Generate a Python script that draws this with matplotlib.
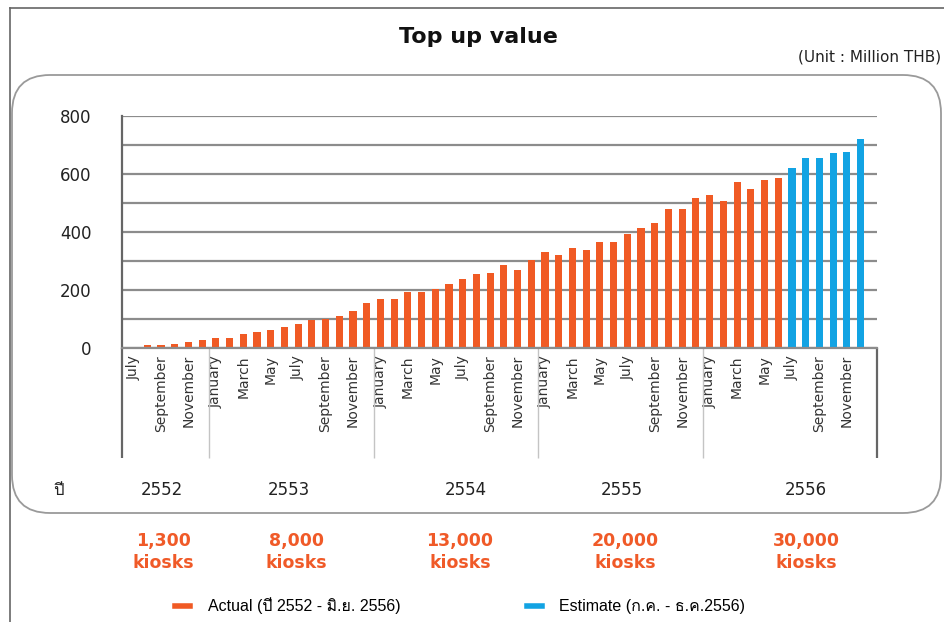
import numpy as np
import matplotlib
matplotlib.use('Agg')
import matplotlib.pyplot as plt
from matplotlib import font_manager
from matplotlib.ft2font import FT2Font
from matplotlib.patches import FancyBboxPatch
from matplotlib.lines import Line2D
from matplotlib.transforms import IdentityTransform


# busca una fuente con glifos thai (ปี, มิ.ย., ...)
def buscar_fuente_thai():
    vistos = set()
    for f in font_manager.fontManager.ttflist:
        if f.fname in vistos:
            continue
        vistos.add(f.fname)
        try:
            if 0x0E1B in FT2Font(f.fname).get_charmap():
                return f.name
        except Exception:
            pass
    return None


thai = buscar_fuente_thai()
familia = ['DejaVu Sans'] + ([thai] if thai else [])
familia_leyenda = ['Liberation Sans'] + ([thai] if thai else [])
plt.rcParams['font.family'] = familia

# %% datos

years = ['2552', '2553', '2554', '2555', '2556']
kiosks = ['1,300', '8,000', '13,000', '20,000', '30,000']
month_names = ['January', 'February', 'March', 'April', 'May', 'June',
               'July', 'August', 'September', 'October', 'November', 'December']

# jul 2552 - jun 2556
actual_values = [0, 11, 11, 15, 22, 29,
                 36, 36, 48, 56, 63, 75, 84, 98, 100, 112, 128, 155,
                 169, 169, 193, 193, 205, 221, 240, 255, 258, 286, 268, 304,
                 333, 320, 344, 340, 366, 366, 393, 413, 433, 479, 481, 517,
                 529, 508, 571, 550, 580, 586]
# jul 2556 - dic 2556
estimate_values = [622, 654, 654, 671, 676, 721]

actual_label = 'Actual (ปี 2552 - มิ.ย. 2556)'
estimate_label = 'Estimate (ก.ค. - ธ.ค.2556)'

months = month_names[6:] + month_names * 3 + month_names
n = len(months)
x = np.arange(n)
x_act = x[:len(actual_values)]
x_est = x[len(actual_values):]

c_act = '#F05A24'
c_est = '#12A3E3'

# %% figura

W, H = 945, 622
fig = plt.figure(figsize=(W / 100, H / 100), dpi=100)


def fx(px):
    return px / W


def fy(py):
    return 1 - py / H


# marco de la diapositiva
fig.add_artist(Line2D([fx(10), 1], [fy(8), fy(8)], color='#666666', lw=1.2))
fig.add_artist(Line2D([fx(10), fx(10)], [fy(8), 0], color='#666666', lw=1.2))

# caja redondeada
caja = FancyBboxPatch((12, H - 513), 929, 438,
                      boxstyle='round,pad=0,rounding_size=38',
                      transform=IdentityTransform(),
                      fc='none', ec='#9a9a9a', lw=1.3)
fig.add_artist(caja)

fig.text(fx(478), fy(37), 'Top up value', ha='center', va='center',
         fontsize=16, fontweight='bold', color='#111111')
fig.text(fx(941), fy(57), '(Unit : Million THB)', ha='right', va='center',
         fontsize=11, color='#222222')

ax_top, ax_bot = 116, 348.3
ax = fig.add_axes([fx(122), fy(ax_bot), fx(877) - fx(122), (ax_bot - ax_top) / H])
xmin, xmax = -0.84, 54.2
ax.set_xlim(xmin, xmax)
ax.set_ylim(0, 800)

ax.bar(x_act, actual_values, width=0.52, color=c_act, zorder=2)
ax.bar(x_est, estimate_values, width=0.52, color=c_est, zorder=2)

yt = np.arange(0, 801, 100)
ax.set_yticks(yt)
ax.set_yticklabels([str(v) if v % 200 == 0 else '' for v in yt])
ax.yaxis.grid(True, color='#8c8c8c', lw=1.6)
ax.set_axisbelow(True)
ax.tick_params(axis='y', length=0, pad=22, labelsize=12, labelcolor='#222222')

ax.set_xticks(x[::2])
ax.set_xticklabels(months[::2], rotation=90, fontsize=10, color='#333333')
ax.tick_params(axis='x', length=0, pad=5)

for s in ['top', 'right']:
    ax.spines[s].set_visible(False)
ax.spines['left'].set_color('#666666')
ax.spines['left'].set_linewidth(1.6)
ax.spines['bottom'].set_color('#8c8c8c')
ax.spines['bottom'].set_linewidth(1.6)

# lineas bajo el eje: separadores de año
abajo = -(458 - ax_bot) / (ax_bot - ax_top)
tr = ax.get_xaxis_transform()
ax.vlines([xmin, xmax], abajo, 0, transform=tr, clip_on=False, color='#666666', lw=1.6)
ax.vlines([5.5, 17.5, 29.5, 41.5], abajo, 0, transform=tr, clip_on=False,
          color='#c4c4c4', lw=1.0)

# años y kioscos
year_x = [2.1, 11.3, 24.2, 35.6, 49.0]
kiosk_x = [2.15, 11.85, 23.8, 35.85, 49.05]
y_year = -(490 - ax_bot) / (ax_bot - ax_top)
y_kiosk = -(552 - ax_bot) / (ax_bot - ax_top)
for xi, yr in zip(year_x, years):
    ax.text(xi, y_year, yr, transform=tr, ha='center', va='center',
            fontsize=12, color='#222222')
for xi, k in zip(kiosk_x, kiosks):
    ax.text(xi, y_kiosk, k + '\nkiosks', transform=tr, ha='center', va='center',
            fontsize=12.5, fontweight='bold', color='#F05A28', linespacing=1.25)
fig.text(fx(58), fy(490), 'ปี', ha='center', va='center', fontsize=12, color='#222222')

# leyenda
handles = [Line2D([], [], color=c_act, lw=4), Line2D([], [], color=c_est, lw=4)]
fig.legend(handles, [actual_label, estimate_label], loc='center left',
           bbox_to_anchor=(fx(175), fy(606)), ncol=2, frameon=False,
           handlelength=0.95, handletextpad=1.1, columnspacing=7.9,
           borderpad=0, borderaxespad=0,
           prop={'family': familia_leyenda, 'size': 11.5})

fig.savefig('out.png', dpi=100)
